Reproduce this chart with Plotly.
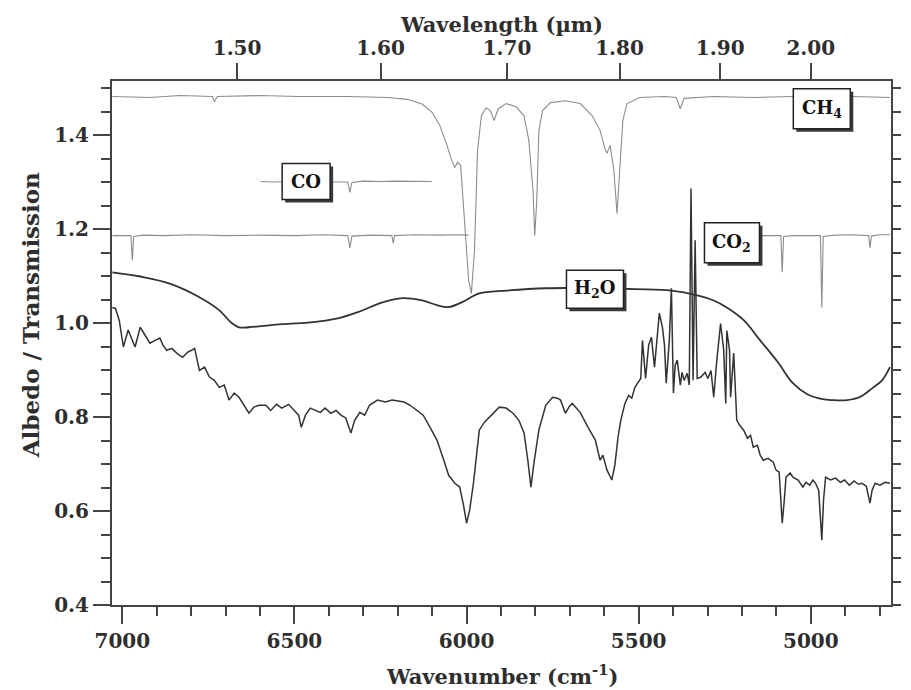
import plotly.graph_objects as go

# ---- CH4 transmission (offset) ----
ch4_wn = [7029, 6920, 6833, 6738, 6733, 6724, 6603, 6488, 6345, 6230, 6172, 6129, 6101, 6078,
          6057, 6043, 6034, 6026, 6017, 6006, 5994, 5986, 5977, 5968, 5957, 5943, 5931, 5920,
          5908, 5885, 5856, 5833, 5819, 5807, 5802, 5796, 5790, 5779, 5756, 5713, 5670, 5635,
          5612, 5598, 5592, 5583, 5572, 5563, 5555, 5546, 5534, 5497, 5425, 5391, 5379, 5368,
          5282, 5167, 5052, 4879, 4770]
ch4_val = [1.482, 1.480, 1.484, 1.482, 1.471, 1.482, 1.484, 1.482, 1.482, 1.480, 1.476, 1.466,
           1.449, 1.421, 1.378, 1.346, 1.331, 1.342, 1.335, 1.218, 1.091, 1.063, 1.155, 1.367,
           1.441, 1.458, 1.452, 1.431, 1.456, 1.467, 1.460, 1.441, 1.388, 1.282, 1.186, 1.261,
           1.410, 1.452, 1.469, 1.473, 1.467, 1.441, 1.410, 1.371, 1.361, 1.378, 1.325, 1.233,
           1.325, 1.431, 1.467, 1.480, 1.482, 1.480, 1.456, 1.478, 1.482, 1.480, 1.482, 1.482,
           1.480]

# ---- CO transmission (offset) ----
co_wn = [6598, 6560, 6520, 6480, 6440, 6390, 6345, 6339, 6333, 6300, 6250, 6200, 6150, 6101]
co_val = [1.301, 1.300, 1.301, 1.301, 1.300, 1.301, 1.300, 1.278, 1.299, 1.302, 1.301, 1.302,
          1.301, 1.301]

# ---- CO2 transmission (offset), two segments ----
co2_wn_a = [7029, 6990, 6975, 6971, 6967, 6940, 6880, 6800, 6700, 6600, 6500, 6420, 6345, 6339,
            6333, 6280, 6217, 6213, 6209, 6150, 6080, 6030, 5994]
co2_val_a = [1.186, 1.187, 1.186, 1.133, 1.184, 1.187, 1.186, 1.188, 1.186, 1.187, 1.186, 1.188,
             1.186, 1.160, 1.185, 1.187, 1.186, 1.170, 1.186, 1.188, 1.187, 1.188, 1.187]
co2_wn_b = [5144, 5100, 5087, 5083, 5079, 5050, 5000, 4972, 4968, 4964, 4930, 4880, 4832, 4828,
            4824, 4800, 4770]
co2_val_b = [1.186, 1.187, 1.186, 1.108, 1.184, 1.186, 1.187, 1.186, 1.033, 1.184, 1.187, 1.188,
             1.186, 1.160, 1.185, 1.188, 1.188]

# ---- H2O transmission (offset) ----
h2o_wn = [7029, 6948, 6862, 6776, 6718, 6684, 6661, 6632, 6546, 6460, 6374, 6316, 6244, 6187,
          6129, 6086, 6052, 6014, 5963, 5885, 5770, 5626, 5511, 5405, 5330, 5282, 5244, 5195,
          5147, 5095, 5052, 5009, 4966, 4937, 4894, 4859, 4822, 4793, 4770]
h2o_val = [1.108, 1.099, 1.084, 1.055, 1.027, 1.001, 0.991, 0.991, 0.997, 1.001, 1.010, 1.023,
           1.044, 1.053, 1.048, 1.038, 1.034, 1.044, 1.063, 1.069, 1.074, 1.074, 1.072, 1.069,
           1.059, 1.048, 1.033, 1.006, 0.963, 0.916, 0.872, 0.848, 0.838, 0.836, 0.836, 0.842,
           0.861, 0.878, 0.906]

# ---- Measured albedo spectrum ----
alb_wn = [7029, 7020, 7009, 6997, 6983, 6974, 6963, 6948, 6934, 6920, 6905, 6891, 6882, 6871,
          6856, 6842, 6825, 6810, 6799, 6790, 6776, 6761, 6747, 6733, 6718, 6704, 6690, 6675,
          6661, 6647, 6632, 6618, 6603, 6583, 6569, 6552, 6537, 6517, 6500, 6488, 6480, 6468,
          6454, 6440, 6425, 6411, 6394, 6379, 6365, 6351, 6336, 6325, 6310, 6296, 6282, 6259,
          6236, 6216, 6195, 6181, 6164, 6144, 6126, 6106, 6086, 6066, 6052, 6034, 6020, 6009,
          6000, 5991, 5980, 5971, 5963, 5948, 5934, 5920, 5905, 5885, 5865, 5848, 5833, 5822,
          5813, 5805, 5790, 5770, 5750, 5736, 5727, 5713, 5701, 5693, 5670, 5647, 5626, 5612,
          5604, 5592, 5578, 5569, 5560, 5552, 5540, 5529, 5520, 5511, 5503, 5494, 5489, 5480,
          5471, 5463, 5454, 5445, 5440, 5431, 5425, 5420, 5411, 5405, 5399, 5394, 5388, 5379,
          5374, 5368, 5359, 5353, 5348, 5342, 5336, 5330, 5319, 5307, 5299, 5290, 5282, 5273,
          5262, 5253, 5247, 5244, 5236, 5233, 5224, 5215, 5207, 5195, 5184, 5175, 5167, 5155,
          5147, 5138, 5124, 5109, 5101, 5092, 5083, 5077, 5072, 5060, 5052, 5037, 5023, 5014,
          5003, 4994, 4986, 4977, 4968, 4963, 4957, 4943, 4928, 4914, 4902, 4888, 4874, 4862,
          4851, 4839, 4828, 4822, 4813, 4799, 4784, 4770]
alb_val = [1.033, 1.031, 1.006, 0.949, 0.985, 0.968, 0.949, 0.991, 0.974, 0.957, 0.963, 0.968,
           0.953, 0.942, 0.946, 0.936, 0.927, 0.938, 0.942, 0.946, 0.899, 0.906, 0.885, 0.878,
           0.863, 0.868, 0.836, 0.851, 0.842, 0.825, 0.808, 0.821, 0.825, 0.825, 0.814, 0.827,
           0.819, 0.827, 0.814, 0.804, 0.778, 0.804, 0.819, 0.814, 0.810, 0.819, 0.808, 0.814,
           0.804, 0.798, 0.766, 0.793, 0.810, 0.804, 0.825, 0.836, 0.832, 0.836, 0.834, 0.832,
           0.825, 0.814, 0.804, 0.778, 0.751, 0.708, 0.676, 0.659, 0.651, 0.613, 0.574, 0.602,
           0.659, 0.719, 0.772, 0.789, 0.800, 0.810, 0.821, 0.819, 0.808, 0.793, 0.766, 0.708,
           0.651, 0.698, 0.772, 0.825, 0.842, 0.840, 0.836, 0.808, 0.823, 0.829, 0.810, 0.778,
           0.751, 0.708, 0.719, 0.687, 0.666, 0.698, 0.757, 0.793, 0.829, 0.846, 0.840, 0.863,
           0.872, 0.882, 0.963, 0.882, 0.953, 0.970, 0.906, 0.984, 1.021, 0.991, 0.953, 0.872,
           0.963, 1.074, 0.851, 0.910, 0.921, 0.868, 0.895, 0.878, 0.893, 0.868, 1.286, 0.878,
           1.176, 0.882, 0.885, 0.895, 0.882, 0.899, 0.842, 0.921, 0.999, 0.942, 0.829, 0.984,
           0.942, 0.842, 0.936, 0.793, 0.783, 0.772, 0.755, 0.761, 0.736, 0.740, 0.719, 0.708,
           0.712, 0.704, 0.687, 0.683, 0.574, 0.623, 0.672, 0.681, 0.672, 0.666, 0.651, 0.661,
           0.655, 0.666, 0.659, 0.644, 0.538, 0.623, 0.672, 0.666, 0.670, 0.661, 0.666, 0.655,
           0.664, 0.657, 0.659, 0.653, 0.617, 0.644, 0.659, 0.655, 0.661, 0.659]

# Axis settings
wn_range = [7030, 4767]
y_range = [0.4, 1.515]
wavelength_ticks = [1.50, 1.60, 1.70, 1.80, 1.90, 2.00]
wavelength_labels = ["1.50", "1.60", "1.70", "1.80", "1.90", "2.00"]

# Species labels: text, wavenumber, value
label_text = ["CO", "CH<sub>4</sub>", "CO<sub>2</sub>", "H<sub>2</sub>O"]
label_wn = [6466, 4968, 5229, 5627]
label_val = [1.301, 1.456, 1.171, 1.072]
# box sizes (px) for each label
box_w = [48, 57, 55, 57]
box_h = [36, 40, 40, 38]

FONT = "DejaVu Serif"
INK = "#2e2e2e"
GREY_LINE = "#8c8c8c"
FRAME = "#444444"

fig = go.Figure()

thin = dict(color=GREY_LINE, width=1.1)
fig.add_trace(go.Scatter(x=ch4_wn, y=ch4_val, mode="lines", line=thin, hoverinfo="skip"))
fig.add_trace(go.Scatter(x=co_wn, y=co_val, mode="lines", line=thin, hoverinfo="skip"))
fig.add_trace(go.Scatter(x=co2_wn_a, y=co2_val_a, mode="lines", line=thin, hoverinfo="skip"))
fig.add_trace(go.Scatter(x=co2_wn_b, y=co2_val_b, mode="lines", line=thin, hoverinfo="skip"))
fig.add_trace(go.Scatter(x=h2o_wn, y=h2o_val, mode="lines", line=dict(color="#333333", width=1.8),
                         line_shape="spline", hoverinfo="skip"))
fig.add_trace(go.Scatter(x=alb_wn, y=alb_val, mode="lines", line=dict(color="#333333", width=1.5),
                         hoverinfo="skip"))
# carrier trace for the secondary (top / right) axes
fig.add_trace(go.Scatter(x=wn_range, y=y_range, xaxis="x2", yaxis="y2", mode="markers",
                         marker=dict(opacity=0), hoverinfo="skip"))

tick_font = dict(family=FONT, size=20, color=INK, weight="bold")

fig.update_layout(
    width=911, height=690,
    margin=dict(l=112, r=12, t=81, b=85),
    paper_bgcolor="white", plot_bgcolor="white",
    showlegend=False,
    xaxis=dict(range=wn_range, showgrid=False, zeroline=False,
               showline=True, linecolor=FRAME, linewidth=2,
               ticks="outside", ticklen=17, tickwidth=2, tickcolor=FRAME,
               tick0=5000, dtick=500, tickfont=tick_font,
               minor=dict(dtick=100, ticks="outside", ticklen=9, tickwidth=2, tickcolor=FRAME)),
    xaxis2=dict(range=wn_range, overlaying="x", side="top", anchor="y", showgrid=False,
                zeroline=False, showline=True, linecolor=FRAME, linewidth=2,
                ticks="outside", ticklen=16, tickwidth=2, tickcolor=FRAME,
                tickmode="array",
                tickvals=[1e4 / lam for lam in wavelength_ticks],
                ticktext=wavelength_labels, tickfont=tick_font),
    yaxis=dict(range=y_range, showgrid=False, zeroline=False,
               showline=True, linecolor=FRAME, linewidth=2,
               ticks="outside", ticklen=17, tickwidth=2, tickcolor=FRAME,
               tick0=0.4, dtick=0.2, tickformat=".1f", tickfont=tick_font,
               minor=dict(dtick=0.05, ticks="outside", ticklen=9, tickwidth=2, tickcolor=FRAME)),
    yaxis2=dict(range=y_range, overlaying="y", side="right", anchor="x", showgrid=False,
                zeroline=False, showline=True, linecolor=FRAME, linewidth=2,
                ticks="outside", ticklen=8, tickwidth=2, tickcolor=FRAME,
                tick0=0.4, dtick=0.05, showticklabels=False),
)

title_font = dict(family=FONT, size=21, color=INK, weight="bold")
fig.add_annotation(text="Wavenumber (cm<sup>-1</sup>)", xref="paper", yref="paper",
                   x=0.5, y=0, yanchor="middle", yshift=-70, showarrow=False, font=title_font)
fig.add_annotation(text="Wavelength (µm)", xref="paper", yref="paper",
                   x=0.5, y=1, yanchor="middle", yshift=57, showarrow=False, font=title_font)
fig.add_annotation(text="Albedo / Transmission", xref="paper", yref="paper",
                   x=0, y=0.553, xanchor="center", yanchor="middle", xshift=-82, textangle=-90,
                   showarrow=False, font=dict(family=FONT, size=23, color=INK, weight="bold"))

# boxed species labels: drop shadow, white box, then the text
SHADOW = 3
for text, wn, val, bw, bh in zip(label_text, label_wn, label_val, box_w, box_h):
    fig.add_shape(type="rect", xref="x", yref="y", xsizemode="pixel", ysizemode="pixel",
                  xanchor=wn, yanchor=val,
                  x0=-bw / 2 + SHADOW, x1=bw / 2 + SHADOW,
                  y0=-bh / 2 - SHADOW, y1=bh / 2 - SHADOW,
                  fillcolor="#3a3a3a", line=dict(width=0), layer="above")
    fig.add_shape(type="rect", xref="x", yref="y", xsizemode="pixel", ysizemode="pixel",
                  xanchor=wn, yanchor=val,
                  x0=-bw / 2, x1=bw / 2, y0=-bh / 2, y1=bh / 2,
                  fillcolor="white", line=dict(color="#222222", width=1.5), layer="above")
    fig.add_annotation(text=text, x=wn, y=val, showarrow=False,
                       font=dict(family=FONT, size=18, color="#111111", weight="bold"))

fig.write_html("out.html")
